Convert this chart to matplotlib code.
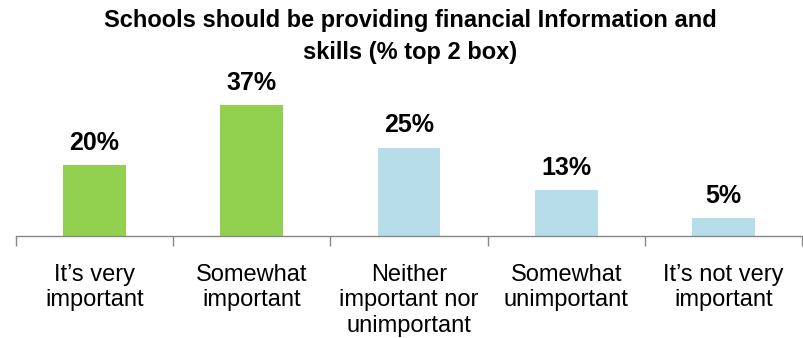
import matplotlib
matplotlib.use("Agg")
import matplotlib.pyplot as plt

categories = ["It\u2019s very\nimportant", "Somewhat\nimportant",
              "Neither\nimportant nor\nunimportant", "Somewhat\nunimportant",
              "It\u2019s not very\nimportant"]
values = [20, 37, 25, 13, 5]
colors = ["#92D050", "#92D050", "#B7DEE8", "#B7DEE8", "#B7DEE8"]
title = "Schools should be providing financial Information and\nskills (% top 2 box)"

plt.rcParams["font.family"] = ["Liberation Sans", "DejaVu Sans"]

fig = plt.figure(figsize=(8.04, 3.38), dpi=100)
ax = fig.add_axes([16 / 804, 102 / 338, 786 / 804, 141.6 / 338])

x = range(len(values))
ax.bar(x, values, width=0.4, color=colors)
for i, v in enumerate(values):
    ax.text(i, v + 4.3, f"{v}%", ha="center", va="baseline",
            fontsize=18, fontweight="bold", color="#000000", clip_on=False)

ax.set_xlim(-0.5, len(values) - 0.5)
ax.set_ylim(0, 40)
for s in ["top", "right", "left"]:
    ax.spines[s].set_visible(False)
ax.spines["bottom"].set_color("#888888")
ax.spines["bottom"].set_linewidth(1.0)
ax.set_yticks([])

# boundary ticks between categories, labels centred under the bars
ax.set_xticks([i - 0.5 for i in range(len(values) + 1)])
ax.set_xticklabels([])
ax.tick_params(axis="x", length=7, color="#888888", width=1)
for i, lab in enumerate(categories):
    ax.text(i, -7.8, lab, ha="center", va="top", fontsize=17,
            linespacing=1.22, clip_on=False)

fig.text(0.51, 0.972, title, ha="center", va="top", fontsize=17,
         fontweight="bold", linespacing=1.5)

fig.savefig("out.png", dpi=100)
